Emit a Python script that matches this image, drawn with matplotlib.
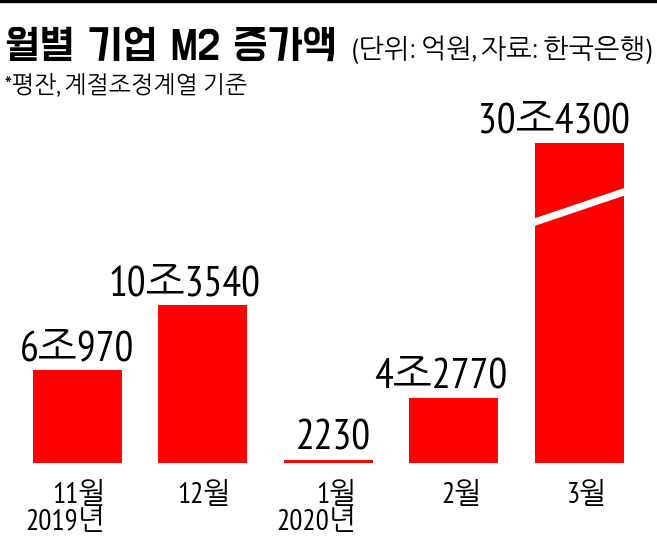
import matplotlib.pyplot as plt
from matplotlib.lines import Line2D

# Monthly corporate M2 increase (unit: 100 million won)
months = ['11월', '12월', '1월', '2월', '3월']
years = ['2019년', '', '2020년', '', '']
values = [60970, 103540, 2230, 42770, 304300]
value_labels = ['6조970', '10조3540', '2230', '4조2770', '30조4300']

# The tallest bar is drawn broken, cut at this height.
break_cap = 210000

kr = 'Noto Sans CJK KR'
title_font = ['Do Hyeon', kr]
num_fonts = ['PT Sans Narrow', 'NanumGothic', kr]
red = '#ff0000'

fig = plt.figure(figsize=(6.57, 5.39), dpi=100)
fig.patch.set_facecolor('white')

# Black rule at the very top.
fig.add_artist(Line2D([0, 1], [0.9975, 0.9975], color='black', lw=2.4,
                      transform=fig.transFigure))

# Title and notes.
fig.text(5 / 657, 1 - 60 / 539, '월별 기업 M2 증가액', family=title_font,
         fontsize=32.5, va='baseline', ha='left')
fig.text(651 / 657, 1 - 58 / 539, '(단위: 억원, 자료: 한국은행)', family=num_fonts,
         fontsize=19.5, va='baseline', ha='right')
fig.text(5 / 657, 1 - 92 / 539, '*평잔, 계절조정계열 기준', family=num_fonts,
         fontsize=17, va='baseline', ha='left')

ax = fig.add_axes([14.75 / 657, 76 / 539, 627.25 / 657, 381.25 / 539])
ax.set_xlim(-0.5, 4.5)
ax.set_ylim(0, 250000)
ax.axis('off')

shown = [min(v, break_cap) for v in values]
width = 0.709
ax.bar(range(len(values)), shown, width=width, color=red)

# White slash across the broken bar.
i_big = values.index(max(values))
x0, x1 = i_big - width / 2 - 0.02, i_big + width / 2 + 0.02
slope = (177700 - 158000) / width
y0 = 158000 - 0.02 * slope
y1 = 177700 + 0.02 * slope
ax.plot([x0, x1], [y0, y1], color='white', lw=5.2, solid_capstyle='butt')

# Value labels above the bars.
nudges = [0, -18, 5, -13, -25]
for i, (h, lab) in enumerate(zip(shown, value_labels)):
    ax.annotate(lab, (i, h), xytext=(nudges[i], 10), textcoords='offset pixels',
                ha='center', va='baseline', fontsize=30, family=num_fonts,
                annotation_clip=False)

# Category labels below.
for i, (m, y) in enumerate(zip(months, years)):
    ax.annotate(m, (i, 0), xytext=(28, -40), textcoords='offset pixels',
                ha='right', va='baseline', fontsize=21, family=num_fonts,
                annotation_clip=False)
    if y:
        ax.annotate(y, (i, 0), xytext=(28, -67), textcoords='offset pixels',
                    ha='right', va='baseline', fontsize=21, family=num_fonts,
                    annotation_clip=False)

fig.savefig('out.png', dpi=100)
